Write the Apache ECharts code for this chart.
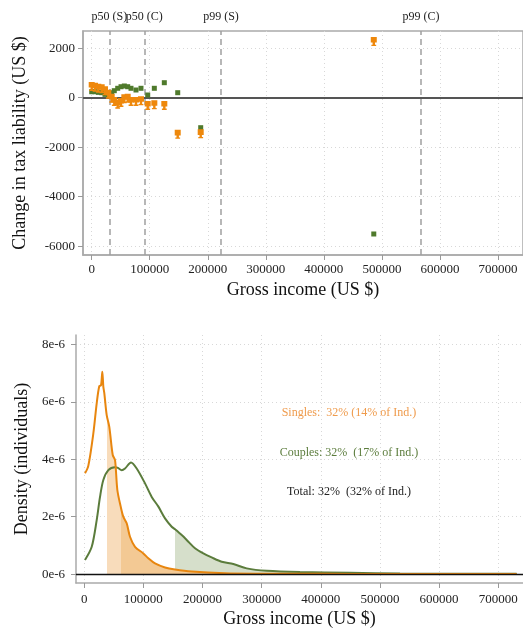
<!DOCTYPE html>
<html><head><meta charset="utf-8">
<script src="https://cdn.jsdelivr.net/npm/echarts@6/dist/echarts.min.js"></script>
<style>html,body{margin:0;padding:0;background:#fff}#c{width:523px;height:630px}</style>
</head><body><div id="c"></div>
<script>
// ---- Top panel: change in tax liability by gross income ----
const topIncome      = [0, 5700, 11400, 17200, 22900, 28600, 34400, 38900, 44800, 50500, 56200, 62000, 67700, 76300, 84900, 96500, 107900, 125100, 148200, 187800, 486000];
const couplesChange  = [242, 242, 216, 202, 135, 81, 200, 283, 380, 444, 473, 444, 380, 311, 380, 109, 380, 606, 202, -1212, -5507];
const singlesChange  = [513, 485, 444, 420, 339, 202, 40, -93, -202, -133, 16, 40, -93, -93, -65, -255, -226, -255, -1420, -1400, 2330];
const pctLabels      = ['p50 (S)', 'p50 (C)', 'p99 (S)', 'p99 (C)'];
const pctIncome      = [30300, 90600, 222800, 567400];
const xTicks         = [0, 100000, 200000, 300000, 400000, 500000, 600000, 700000];
const topYTicks      = [-6000, -4000, -2000, 0, 2000];

// ---- Bottom panel: income density ----
const singlesIncome  = [1300, 6900, 15400, 21100, 25500, 28400, 30600, 32300, 34000, 38000, 42400, 48200, 52100, 56000, 61700, 66100, 71800, 77400, 85900, 100000, 108400, 119700, 136600, 153500, 181700, 238000, 300000, 400000, 500000, 600000, 731000];
const singlesDensity = [3.51e-6, 3.77e-6, 4.90e-6, 5.95e-6, 6.55e-6, 6.58e-6, 7.05e-6, 6.53e-6, 6.30e-6, 5.54e-6, 5.13e-6, 4.15e-6, 3.97e-6, 2.93e-6, 2.35e-6, 2.00e-6, 1.77e-6, 1.30e-6, 0.95e-6, 0.72e-6, 0.55e-6, 0.37e-6, 0.23e-6, 0.16e-6, 0.09e-6, 0.03e-6, 0.015e-6, 0.008e-6, 0.005e-6, 0.004e-6, 0.003e-6];
const couplesIncome  = [1300, 12700, 21100, 26700, 32300, 40800, 52000, 57000, 63300, 69000, 79100, 88700, 102800, 114100, 125400, 136600, 147900, 153500, 164800, 176100, 187300, 201400, 215500, 232400, 252100, 274700, 308500, 364800, 449300, 533900, 731000];
const couplesDensity = [0.49e-6, 0.95e-6, 1.88e-6, 2.69e-6, 3.28e-6, 3.62e-6, 3.72e-6, 3.70e-6, 3.62e-6, 3.68e-6, 3.89e-6, 3.68e-6, 3.16e-6, 2.69e-6, 2.35e-6, 1.94e-6, 1.65e-6, 1.56e-6, 1.36e-6, 1.13e-6, 0.90e-6, 0.72e-6, 0.58e-6, 0.43e-6, 0.35e-6, 0.20e-6, 0.115e-6, 0.07e-6, 0.045e-6, 0.02e-6, 0.01e-6];
const densityYTicks  = [0, 2e-6, 4e-6, 6e-6, 8e-6];
const singlesShadeLight = 38000, singlesShadeDark = 61700, couplesShade = 153500;
const annoTexts = ['Singles:  32% (14% of Ind.)', 'Couples: 32%  (17% of Ind.)', 'Total: 32%  (32% of Ind.)'];

const FF = '"Liberation Serif", "DejaVu Serif", serif';
const GREEN = '#4f7a2c', ORANGE = '#ee880c', GREEN_LINE = '#5b7c3c', ORANGE_LINE = '#e8860f';
const zip = (a, b) => a.map((v, i) => [v, b[i]]);
const plain = v => String(v);

// horizontal gradient over the area shape (x range = first..last data x) with hard stops at income cut-offs
function shade(xs, bands) {
  const x0 = xs[0], x1 = xs[xs.length - 1];
  const off = v => Math.max(0, Math.min(1, (v - x0) / (x1 - x0)));
  const stops = [{ offset: 0, color: 'rgba(255,255,255,0)' }];
  bands.forEach(b => {
    const o1 = off(b[0]), o2 = off(b[1]);
    stops.push({ offset: o1, color: 'rgba(255,255,255,0)' }, { offset: o1, color: b[2] },
               { offset: o2, color: b[2] }, { offset: o2, color: 'rgba(255,255,255,0)' });
  });
  return { type: 'linear', x: 0, y: 0, x2: 1, y2: 0, colorStops: stops };
}

const tickLab = { fontFamily: FF, fontSize: 13, color: '#222' };
const splitLn = { show: true, lineStyle: { color: '#d8d8d8', type: [1, 3], width: 1 } };
const nameSty = { fontFamily: FF, fontSize: 18, color: '#111' };

const orangeSym = 'path://M0,0H10V8H7V11H9V13H1V11H3V8H0Z';

const chart = echarts.init(document.getElementById('c'), null, { renderer: 'canvas' });
chart.setOption({
  animation: false,
  backgroundColor: '#fff',
  grid: [
    { left: 83, top: 31, right: 0, height: 224, show: true, borderColor: '#aaa', borderWidth: 1.5, containLabel: false },
    { left: 76, top: 335, right: 0, height: 248, containLabel: false }
  ],
  xAxis: [
    { type: 'value', gridIndex: 0, min: -15000, max: 743100, splitNumber: 8,
      axisLine: { show: true, onZero: false, lineStyle: { color: '#aaa', width: 1.5 } },
      axisTick: { show: true, length: 5, customValues: xTicks, lineStyle: { color: '#999' } },
      axisLabel: Object.assign({ customValues: xTicks, margin: 8, formatter: plain }, tickLab),
      splitLine: splitLn,
      name: 'Gross income (US $)', nameLocation: 'middle', nameGap: 26, nameTextStyle: nameSty },
    { type: 'value', gridIndex: 1, min: -13900, max: 741800, splitNumber: 8,
      axisLine: { show: true, onZero: false, lineStyle: { color: '#aaa', width: 1.5 } },
      axisTick: { show: true, length: 5, customValues: xTicks, lineStyle: { color: '#999' } },
      axisLabel: Object.assign({ customValues: xTicks, margin: 10, formatter: plain }, tickLab),
      splitLine: splitLn,
      name: 'Gross income (US $)', nameLocation: 'middle', nameGap: 27, nameTextStyle: nameSty }
  ],
  yAxis: [
    { type: 'value', gridIndex: 0, min: -6356, max: 2695, splitNumber: 5,
      axisLine: { show: true, onZero: false, lineStyle: { color: '#aaa', width: 1.5 } },
      axisTick: { show: true, length: 5, customValues: topYTicks, lineStyle: { color: '#999' } },
      axisLabel: Object.assign({ customValues: topYTicks, margin: 8, formatter: plain }, tickLab),
      splitLine: splitLn,
      name: 'Change in tax liability (US $)', nameLocation: 'middle', nameGap: 54, nameTextStyle: nameSty },
    { type: 'value', gridIndex: 1, min: -0.31e-6, max: 8.33e-6, splitNumber: 5,
      axisLine: { show: true, onZero: false, lineStyle: { color: '#aaa', width: 1.5 } },
      axisTick: { show: true, length: 5, customValues: densityYTicks, lineStyle: { color: '#999' } },
      axisLabel: Object.assign({ customValues: densityYTicks, margin: 11,
        formatter: v => Math.round(v * 1e6) + 'e-6' }, tickLab),
      splitLine: splitLn,
      name: 'Density (individuals)', nameLocation: 'middle', nameGap: 45, nameTextStyle: nameSty }
  ],
  series: [
    { type: 'scatter', xAxisIndex: 0, yAxisIndex: 0, data: zip(topIncome, couplesChange),
      symbol: 'rect', symbolSize: 5, itemStyle: { color: GREEN, opacity: 1 }, z: 3,
      markLine: { silent: true, symbol: ['none', 'none'], animation: false, z: 2,
        data: [
          { yAxis: 0, lineStyle: { color: '#555', width: 2, type: 'solid' }, label: { show: false } }
        ].concat(pctIncome.map((v, i) => ({
          xAxis: v, name: pctLabels[i],
          lineStyle: { color: '#a0a0a0', width: 1.5, type: [6, 4] },
          label: { show: true, position: 'end', formatter: '{b}', color: '#222', fontFamily: FF, fontSize: 12, distance: 8 }
        })))
      } },
    { type: 'scatter', xAxisIndex: 0, yAxisIndex: 0, data: zip(topIncome, singlesChange),
      symbol: orangeSym, symbolSize: [6, 9], symbolOffset: [0, 1.5], itemStyle: { color: ORANGE, opacity: 1 }, z: 4 },
    { type: 'line', xAxisIndex: 1, yAxisIndex: 1, data: zip(couplesIncome, couplesDensity),
      smooth: 0.3, showSymbol: false, lineStyle: { width: 0, opacity: 0 }, itemStyle: { color: GREEN_LINE },
      areaStyle: { opacity: 1, color: shade(couplesIncome, [[couplesShade, 1e9, '#d6dfcb']]) }, z: 1, silent: true,
      markLine: { silent: true, symbol: ['none', 'none'], animation: false,
        data: [{ yAxis: 0, lineStyle: { color: '#111', width: 1.3, type: 'solid' }, label: { show: false } }] } },
    { type: 'line', xAxisIndex: 1, yAxisIndex: 1, data: zip(singlesIncome, singlesDensity),
      smooth: 0.3, showSymbol: false, lineStyle: { width: 0, opacity: 0 }, itemStyle: { color: ORANGE_LINE },
      areaStyle: { opacity: 1, color: shade(singlesIncome, [[singlesShadeLight, singlesShadeDark, '#f8dcbb'], [singlesShadeDark, 1e9, '#f3c994']]) }, z: 1, silent: true },
    { type: 'line', xAxisIndex: 1, yAxisIndex: 1, data: zip(couplesIncome, couplesDensity),
      smooth: 0.3, showSymbol: false, lineStyle: { width: 2, color: GREEN_LINE }, itemStyle: { color: GREEN_LINE }, z: 3 },
    { type: 'line', xAxisIndex: 1, yAxisIndex: 1, data: zip(singlesIncome, singlesDensity),
      smooth: 0.3, showSymbol: false, lineStyle: { width: 2, color: ORANGE_LINE }, itemStyle: { color: ORANGE_LINE }, z: 4 }
  ],
  graphic: annoTexts.map((t, i) => ({
    type: 'text', x: 349, y: [413, 453, 492][i], z: 10,
    style: { text: t, fill: ['#ef9b4c', '#5b7c3c', '#222'][i], font: '12px ' + FF, align: 'center', verticalAlign: 'middle' }
  }))
});
</script></body></html>
